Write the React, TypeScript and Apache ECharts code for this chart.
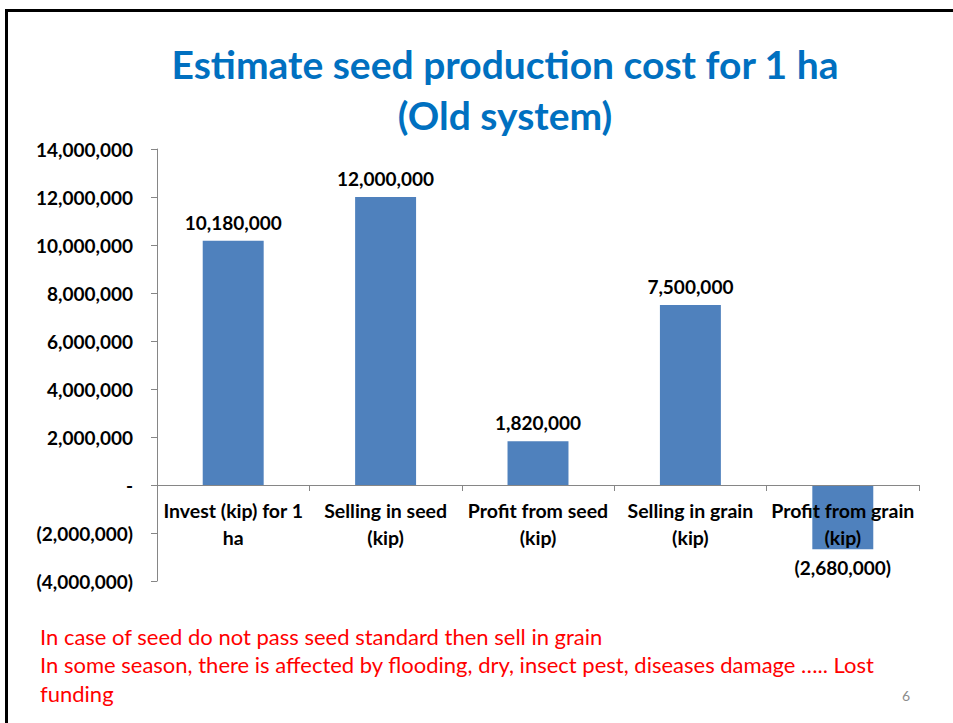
import React, { useEffect, useRef } from "react";
import * as echarts from "echarts";

const categories = [
  "Invest (kip) for 1\nha",
  "Selling in seed\n(kip)",
  "Profit from seed\n(kip)",
  "Selling in grain\n(kip)",
  "Profit from grain\n(kip)",
];
const values = [10180000, 12000000, 1820000, 7500000, -2680000];
const titleLines = ["Estimate seed production cost for 1 ha", "(Old system)"];
const noteLines = [
  "In case of seed do not pass seed standard then sell in grain",
  "In some season, there is affected by flooding, dry, insect pest, diseases damage ….. Lost",
  "funding",
];
const pageNumber = "6";

const fmt = (v: number) => {
  if (v === 0) return "-";
  const s = Math.abs(v).toLocaleString("en-US");
  return v < 0 ? "(" + s + ")" : s;
};

const FONT = "Lato, 'Noto Sans', sans-serif";

export default function App() {
  const ref = useRef<HTMLDivElement>(null);
  useEffect(() => {
    if (!ref.current) return;
    const chart = echarts.init(ref.current, undefined, { renderer: "svg" });
    chart.setOption({
      animation: false,
      backgroundColor: "#ffffff",
      textStyle: { fontFamily: FONT },
      grid: { left: 157, right: 34, top: 149, bottom: 142, containLabel: false },
      xAxis: {
        type: "category",
        data: categories,
        position: "bottom",
        offset: -96,
        z: 5,
        axisLine: { show: true, onZero: false, lineStyle: { color: "#868686", width: 1 } },
        axisTick: { show: true, length: 6, lineStyle: { color: "#868686" } },
        axisLabel: {
          interval: 0,
          margin: 12,
          color: "#000000",
          fontWeight: "bold",
          fontSize: 19.5,
          lineHeight: 27,
          fontFamily: FONT,
        },
      },
      yAxis: {
        type: "value",
        min: -4000000,
        max: 14000000,
        interval: 2000000,
        axisLine: { show: true, lineStyle: { color: "#868686", width: 1 } },
        axisTick: { show: true, length: 6, lineStyle: { color: "#868686" } },
        splitLine: { show: false },
        axisLabel: {
          margin: 24,
          color: "#000000",
          fontWeight: "bold",
          fontSize: 19,
          fontFamily: FONT,
          formatter: (v: number) => fmt(v),
        },
      },
      series: [
        {
          type: "bar",
          barWidth: "40%",
          itemStyle: { color: "#4F81BD" },
          data: values.map((v) => ({
            value: v,
            label: { position: v < 0 ? "bottom" : "top" },
          })),
          label: {
            show: true,
            distance: 9,
            color: "#000000",
            fontWeight: "bold",
            fontSize: 19,
            fontFamily: FONT,
            formatter: (p: any) => fmt(p.value),
          },
        },
      ],
      graphic: [
        { type: "rect", shape: { x: 5, y: 9, width: 3, height: 714 }, style: { fill: "#000000" } },
        { type: "rect", shape: { x: 5, y: 9, width: 948, height: 3 }, style: { fill: "#000000" } },
        {
          type: "text",
          x: 505,
          y: 38,
          style: {
            text: titleLines.join("\n"),
            textAlign: "center",
            fill: "#0070C0",
            font: "bold 39px " + FONT,
            lineHeight: 51,
          },
        },
        {
          type: "text",
          x: 40,
          y: 622,
          style: {
            text: noteLines.join("\n"),
            fill: "#FF0000",
            font: "22px " + FONT,
            lineHeight: 28.5,
          },
        },
        {
          type: "text",
          x: 902,
          y: 688,
          style: { text: pageNumber, fill: "#8C8C8C", font: "14px " + FONT },
        },
      ],
    });
    return () => chart.dispose();
  }, []);
  return (
    <div
      ref={ref}
      style={{ position: "fixed", left: 0, top: 0, width: 953, height: 723 }}
    />
  );
}
